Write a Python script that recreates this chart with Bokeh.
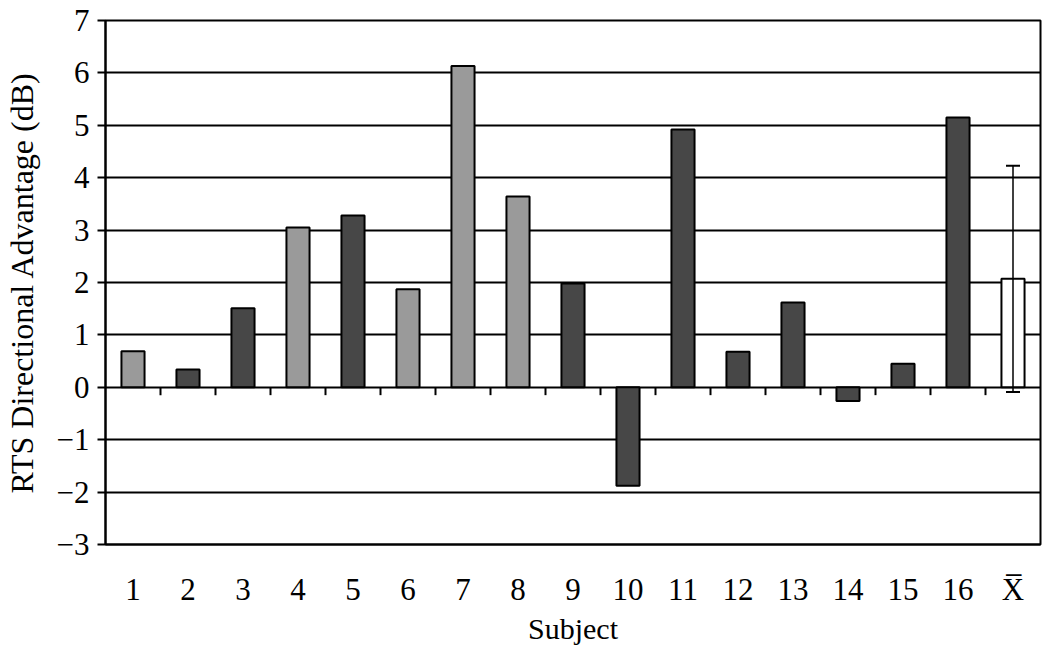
from bokeh.plotting import figure
from bokeh.models import ColumnDataSource, FixedTicker, Whisker, TeeHead
from bokeh.embed import file_html
from bokeh.resources import INLINE

# ---- data ----
subjects = ["1", "2", "3", "4", "5", "6", "7", "8", "9", "10",
            "11", "12", "13", "14", "15", "16", "X\u0305"]
values = [0.69, 0.34, 1.51, 3.05, 3.28, 1.87, 6.13, 3.64, 1.98, -1.88,
          4.92, 0.68, 1.62, -0.26, 0.45, 5.15, 2.07]
groups = ["light", "dark", "dark", "light", "dark", "light", "light", "light", "dark", "dark",
          "dark", "dark", "dark", "dark", "dark", "dark", "mean"]
mean_sd = 2.16
y_ticks = [-3, -2, -1, 0, 1, 2, 3, 4, 5, 6, 7]

palette = {"light": "#9a9a9a", "dark": "#474747", "mean": "#ffffff"}
FONT = "Liberation Serif"

xs = list(range(1, len(subjects) + 1))
src = ColumnDataSource(dict(x=xs, top=values, color=[palette[g] for g in groups]))

p = figure(frame_width=935, frame_height=524,
           x_range=(0.5, len(subjects) + 0.5), y_range=(y_ticks[0], y_ticks[-1]),
           output_backend="svg", toolbar_location=None,
           min_border_left=101, min_border_top=20, min_border_right=4, min_border_bottom=70)
p.background_fill_color = "white"
p.border_fill_color = "white"
p.outline_line_color = "black"
p.outline_line_width = 2

# grid
p.xgrid.grid_line_color = None
p.ygrid.grid_line_color = "black"
p.ygrid.grid_line_width = 2
p.ygrid.ticker = FixedTicker(ticks=y_ticks)

# bars
p.vbar(x="x", top="top", bottom=0, width=0.42, source=src,
       fill_color="color", line_color="black", line_width=2)

# error bar on mean
mean_x = xs[-1]
mean_v = values[-1]
esrc = ColumnDataSource(dict(x=[mean_x], upper=[mean_v + mean_sd], lower=[mean_v - mean_sd]))
w = Whisker(source=esrc, base="x", upper="upper", lower="lower",
            line_color="black", line_width=1.5, level="overlay",
            upper_head=TeeHead(size=14, line_width=2, line_color="black"),
            lower_head=TeeHead(size=14, line_width=2, line_color="black"))
p.add_layout(w)

# category separator ticks at the zero line
bounds = [x + 0.5 for x in xs[:-1]]
p.segment(x0=bounds, x1=bounds, y0=[0] * len(bounds), y1=[-0.15] * len(bounds),
          line_color="black", line_width=2)

# y axis
p.yaxis.ticker = FixedTicker(ticks=y_ticks)
p.yaxis.major_label_overrides = {t: (("\u2212" + str(-t)) if t < 0 else str(t)) for t in y_ticks}
p.yaxis.axis_line_color = "black"
p.yaxis.axis_line_width = 2
p.yaxis.major_tick_line_width = 2
p.yaxis.major_tick_out = 8
p.yaxis.major_tick_in = 0
p.yaxis.minor_tick_line_color = None
p.yaxis.major_label_standoff = 8
p.yaxis.major_label_text_font = FONT
p.yaxis.major_label_text_font_size = "31px"
p.yaxis.major_label_text_color = "black"
p.yaxis.axis_label = "RTS Directional Advantage (dB)"
p.yaxis.axis_label_text_font = FONT
p.yaxis.axis_label_text_font_size = "32px"
p.yaxis.axis_label_text_font_style = "normal"
p.yaxis.axis_label_text_color = "black"
p.yaxis.axis_label_standoff = 14

# x axis
p.xaxis.ticker = FixedTicker(ticks=xs)
p.xaxis.major_label_overrides = {x: s for x, s in zip(xs, subjects)}
p.xaxis.axis_line_color = "black"
p.xaxis.axis_line_width = 2
p.xaxis.major_tick_line_color = None
p.xaxis.minor_tick_line_color = None
p.xaxis.major_label_standoff = 21
p.xaxis.major_label_text_font = FONT
p.xaxis.major_label_text_font_size = "31px"
p.xaxis.major_label_text_color = "black"
p.xaxis.axis_label = "Subject"
p.xaxis.axis_label_text_font = FONT
p.xaxis.axis_label_text_font_size = "30px"
p.xaxis.axis_label_text_font_style = "normal"
p.xaxis.axis_label_text_color = "black"
p.xaxis.axis_label_standoff = 2

open("out.html", "w").write(file_html(p, INLINE))
